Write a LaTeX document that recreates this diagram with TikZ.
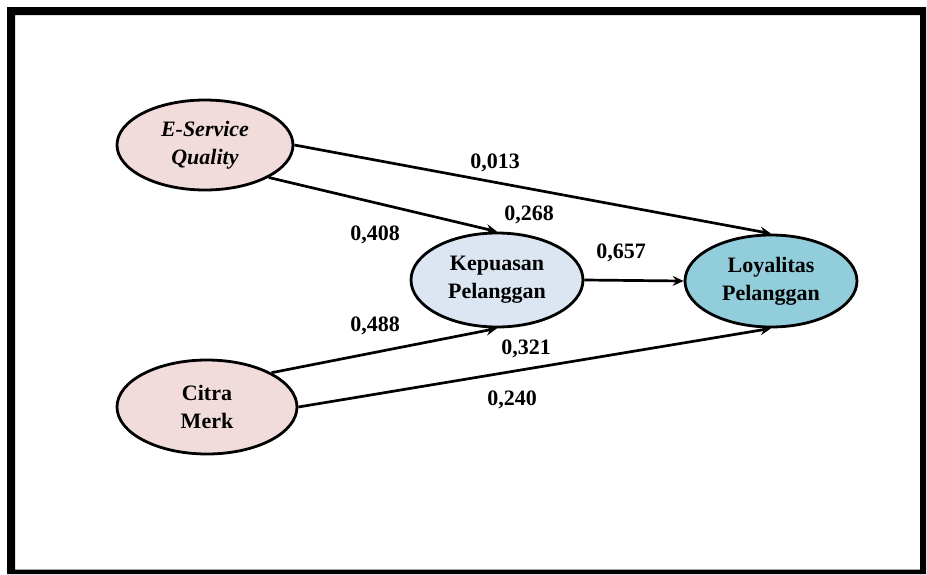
\documentclass[tikz,border=0pt]{standalone}
\usepackage{fontspec}
\setmainfont{Liberation Serif}
\usetikzlibrary{shapes.geometric,arrows.meta}
\definecolor{pinkfill}{HTML}{F2DCDB}
\definecolor{kpfill}{HTML}{DCE6F2}
\definecolor{lyfill}{HTML}{92CDDC}
\begin{document}
\begin{tikzpicture}[x=1pt,y=-1pt,
  latent/.style={ellipse,draw=black,line width=2.8pt,inner sep=0pt,align=center,
    font=\fontsize{22}{28}\selectfont\bfseries},
  arr/.style={line width=2.7pt,-{Stealth[length=11pt,width=10pt,inset=4pt]}},
  coef/.style={font=\fontsize{22}{26}\selectfont\bfseries,inner sep=0pt}]
\useasboundingbox (0,0) rectangle (927,574);
\fill[white] (0,0) rectangle (927,574);
\fill[black,even odd rule] (7,7) rectangle (926,574) (15,15) rectangle (920,569.5);
\node[latent,fill=pinkfill,minimum width=176pt,minimum height=90pt] (esq) at (205,145) {\textit{E-Service}\\\textit{Quality}};
\node[latent,fill=pinkfill,minimum width=180pt,minimum height=94pt] (cm) at (207,407) {Citra\\Merk};
\node[latent,fill=kpfill,minimum width=172pt,minimum height=94pt] (kp) at (497,280) {Kepuasan\\Pelanggan};
\node[latent,fill=lyfill,minimum width=172pt,minimum height=92pt] (ly) at (771,281) {Loyalitas\\Pelanggan};
\draw[arr] (esq.east) -- (ly.north);
\draw[arr] (esq.-27) -- (kp.north);
\draw[arr] (cm.28) -- (kp.south);
\draw[arr] (cm.east) -- (ly.south);
\draw[arr] (kp.east) -- (ly.west);
\node[coef] (c1) at (495,163) {0,013};
\node[coef] (c2) at (529,215) {0,268};
\node[coef] (c3) at (375,235) {0,408};
\node[coef] (c4) at (621,253) {0,657};
\node[coef] (c5) at (375,326) {0,488};
\node[coef] (c6) at (526,349) {0,321};
\node[coef] (c7) at (512,400) {0,240};
\end{tikzpicture}
\end{document}
